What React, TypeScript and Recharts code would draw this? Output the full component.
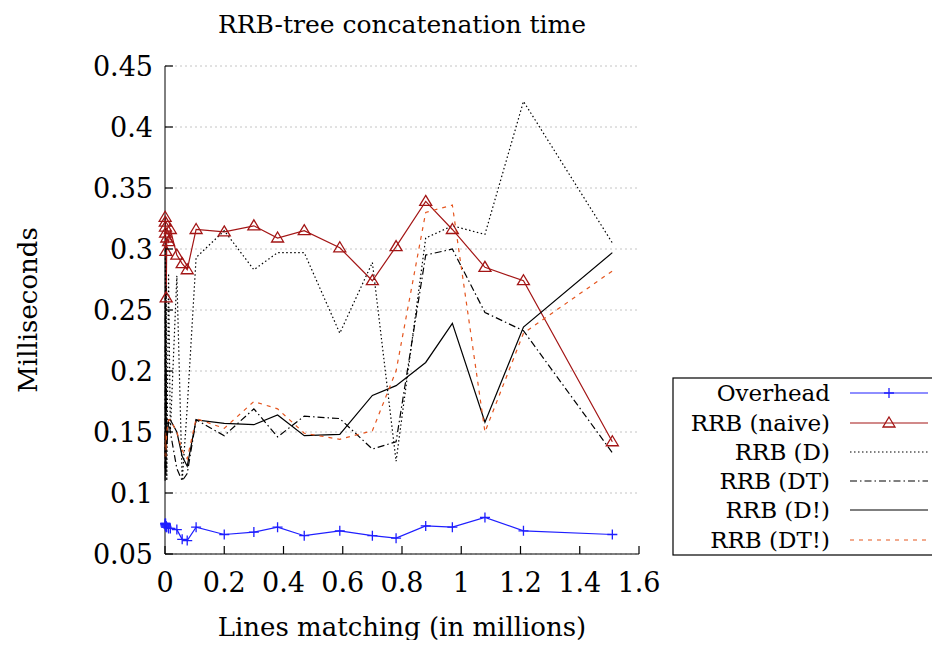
import { LineChart, Line, XAxis, YAxis, CartesianGrid } from "recharts"

const FONT = "'DejaVu Serif', serif"

// lines matching (in millions), shared by all series
const xValues = [
  0.0005, 0.001, 0.0015, 0.002, 0.003, 0.004, 0.006, 0.012, 0.018, 0.04, 0.058, 0.075,
  0.105, 0.2, 0.3, 0.38, 0.47, 0.59, 0.7, 0.78, 0.88, 0.97, 1.08, 1.21, 1.51,
]

const overhead = [
  0.075, 0.074, 0.073, 0.075, 0.072, 0.073, 0.072, 0.071, 0.071, 0.070, 0.062, 0.061,
  0.072, 0.066, 0.068, 0.072, 0.065, 0.069, 0.065, 0.063, 0.073, 0.072, 0.080, 0.069, 0.066,
]
const naive = [
  0.326, 0.322, 0.318, 0.313, 0.298, 0.260, 0.309, 0.306, 0.316, 0.295, 0.288, 0.283,
  0.316, 0.314, 0.319, 0.309, 0.315, 0.301, 0.274, 0.302, 0.339, 0.316, 0.285, 0.274, 0.142,
]
const rrbD = [
  0.13, 0.30, 0.12, 0.29, 0.14, 0.27, 0.11, 0.28, 0.15, 0.278, 0.11, 0.17,
  0.293, 0.315, 0.283, 0.297, 0.297, 0.231, 0.289, 0.126, 0.309, 0.319, 0.312, 0.421, 0.305,
]
const rrbDT = [
  0.12, 0.26, 0.13, 0.24, 0.12, 0.2, 0.14, 0.16, 0.15, 0.12, 0.11, 0.116,
  0.16, 0.147, 0.169, 0.146, 0.163, 0.161, 0.136, 0.142, 0.295, 0.300, 0.248, 0.233, 0.133,
]
const rrbDBang = [
  0.11, 0.15, 0.12, 0.16, 0.115, 0.155, 0.14, 0.16, 0.16, 0.15, 0.13, 0.122,
  0.160, 0.157, 0.156, 0.164, 0.147, 0.148, 0.180, 0.188, 0.207, 0.239, 0.158, 0.236, 0.297,
]
const rrbDTBang = [
  0.13, 0.15, 0.14, 0.15, 0.13, 0.14, 0.15, 0.16, 0.16, 0.15, 0.135, 0.128,
  0.161, 0.153, 0.175, 0.169, 0.149, 0.144, 0.151, 0.2, 0.330, 0.336, 0.150, 0.231, 0.282,
]

const xTicks = [0, 0.2, 0.4, 0.6, 0.8, 1, 1.2, 1.4, 1.6]
const yTicks = [0.05, 0.1, 0.15, 0.2, 0.25, 0.3, 0.35, 0.4, 0.45]

const toPoints = (ys: number[]) => xValues.map((x, i) => ({ x, y: ys[i] }))

type Marker = "plus" | "triangle" | null

const series: { name: string; values: number[]; color: string; dash?: string; marker: Marker }[] = [
  { name: "Overhead", values: overhead, color: "#1f1fff", marker: "plus" },
  { name: "RRB (naive)", values: naive, color: "#a31515", marker: "triangle" },
  { name: "RRB (D)", values: rrbD, color: "#000", dash: "1.5 2.5", marker: null },
  { name: "RRB (DT)", values: rrbDT, color: "#000", dash: "7 3 1.5 3", marker: null },
  { name: "RRB (D!)", values: rrbDBang, color: "#000", marker: null },
  { name: "RRB (DT!)", values: rrbDTBang, color: "#e5561f", dash: "4 5", marker: null },
]

function MarkerShape({ kind, cx, cy, color }: { kind: Marker; cx: number; cy: number; color: string }) {
  if (kind === "plus") {
    return <path d={`M${cx - 5},${cy}h10M${cx},${cy - 5}v10`} stroke={color} strokeWidth={1.3} fill="none" />
  }
  if (kind === "triangle") {
    return <path d={`M${cx},${cy - 6}L${cx + 6},${cy + 4}L${cx - 6},${cy + 4}Z`} stroke={color} strokeWidth={1.3} fill="none" />
  }
  return null
}

const BottomTick = ({ x, y, payload }: any) => (
  <g>
    <line x1={x} y1={y} x2={x} y2={y - 8} stroke="#000" strokeWidth={1.2} />
    <text x={x} y={y + 38} textAnchor="middle" fontSize={27} fontFamily={FONT} fill="#000">
      {payload.value}
    </text>
  </g>
)
const TopTick = ({ x, y }: any) => <line x1={x} y1={y} x2={x} y2={y + 8} stroke="#000" strokeWidth={1.2} />
const LeftTick = ({ x, y, payload }: any) => (
  <g>
    <line x1={x} y1={y} x2={x + 8} y2={y} stroke="#000" strokeWidth={1.2} />
    <text x={x - 12} y={y + 10} textAnchor="end" fontSize={27} fontFamily={FONT} fill="#000">
      {payload.value}
    </text>
  </g>
)
const RightTick = ({ x, y }: any) => <line x1={x} y1={y} x2={x - 8} y2={y} stroke="#000" strokeWidth={1.2} />

export default function App() {
  const legendTop = 370
  const rowY = [385, 415, 444, 473, 502, 532]
  return (
    <div style={{ width: 924, height: 632 }}>
      <LineChart width={924} height={640} margin={{ top: 58, right: 293, bottom: 14, left: 0 }}>
        <CartesianGrid vertical={false} horizontalValues={yTicks} stroke="#c4c4c4" strokeDasharray="2 3" />
        <XAxis
          dataKey="x"
          type="number"
          domain={[0, 1.6]}
          ticks={xTicks}
          interval={0}
          height={80}
          tickSize={0}
          tickMargin={0}
          tickLine={false}
          stroke="#000"
          tick={<BottomTick />}
        />
        <XAxis
          xAxisId="top"
          orientation="top"
          type="number"
          domain={[0, 1.6]}
          ticks={xTicks}
          interval={0}
          height={0}
          tickSize={0}
          tickMargin={0}
          tickLine={false}
          stroke="#000"
          tick={<TopTick />}
        />
        <YAxis
          type="number"
          domain={[0.05, 0.45]}
          ticks={yTicks}
          interval={0}
          width={157}
          tickSize={0}
          tickMargin={0}
          tickLine={false}
          stroke="#000"
          tick={<LeftTick />}
        />
        <YAxis
          yAxisId="right"
          orientation="right"
          type="number"
          domain={[0.05, 0.45]}
          ticks={yTicks}
          interval={0}
          width={0}
          tickSize={0}
          tickMargin={0}
          tickLine={false}
          stroke="#000"
          tick={<RightTick />}
        />
        {series.map((s) => (
          <Line
            key={s.name}
            data={toPoints(s.values)}
            dataKey="y"
            name={s.name}
            type="linear"
            stroke={s.color}
            strokeWidth={1.2}
            strokeDasharray={s.dash}
            isAnimationActive={false}
            dot={
              s.marker
                ? (p: any) => <MarkerShape key={`${s.name}-${p.index}`} kind={s.marker} cx={p.cx} cy={p.cy} color={s.color} />
                : false
            }
            activeDot={false}
          />
        ))}
        <text x={394} y={25} textAnchor="middle" fontSize={25} fontFamily={FONT} fill="#000">
          RRB-tree concatenation time
        </text>
        <text
          x={20}
          y={302}
          transform="rotate(-90 20 302)"
          textAnchor="middle"
          dominantBaseline="central"
          fontSize={26}
          fontFamily={FONT}
          fill="#000"
        >
          Milliseconds
        </text>
        <text x={394} y={628} textAnchor="middle" fontSize={26} fontFamily={FONT} fill="#000">
          Lines matching (in millions)
        </text>
        <g>
          <rect x={665} y={legendTop} width={280} height={177} fill="#fff" stroke="#000" strokeWidth={1.2} />
          {series.map((s, i) => (
            <g key={s.name}>
              <text x={822} y={rowY[i] + 8} textAnchor="end" fontSize={23} fontFamily={FONT} fill="#000">
                {s.name}
              </text>
              <line x1={842} y1={rowY[i]} x2={920} y2={rowY[i]} stroke={s.color} strokeWidth={1.2} strokeDasharray={s.dash} />
              <MarkerShape kind={s.marker} cx={881} cy={rowY[i]} color={s.color} />
            </g>
          ))}
        </g>
      </LineChart>
    </div>
  )
}
